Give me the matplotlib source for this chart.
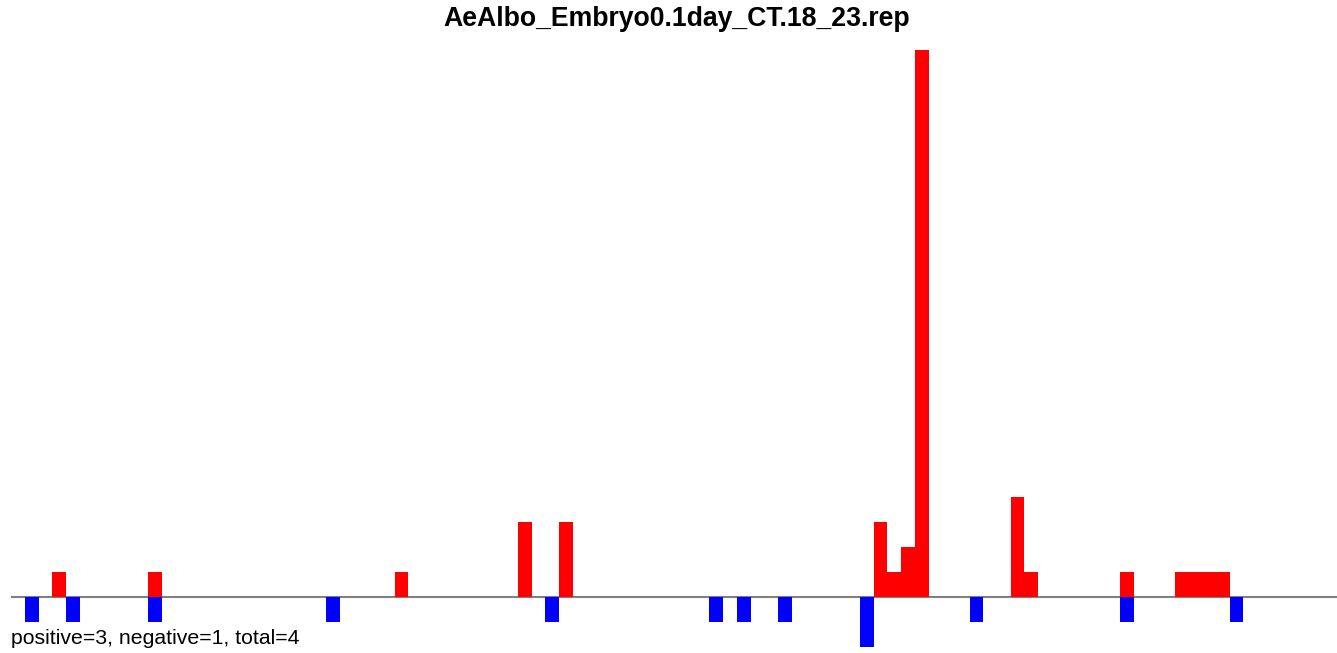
import matplotlib
matplotlib.use("Agg")
import matplotlib.pyplot as plt

title = "AeAlbo_Embryo0.1day_CT.18_23.rep"
summary = "positive=3, negative=1, total=4"

pos_idx = [3, 10, 28, 37, 40, 63, 64, 65, 66, 73, 74, 81, 85, 86, 87, 88]
pos_val = [1, 1, 1, 3, 3, 3, 1, 2, 22, 4, 1, 1, 1, 1, 1, 1]
neg_idx = [1, 4, 10, 23, 39, 51, 53, 56, 62, 70, 81, 89]
neg_val = [-1, -1, -1, -1, -1, -1, -1, -1, -2, -1, -1, -1]

plt.rcParams['font.family'] = ['Liberation Sans', 'DejaVu Sans']

fig = plt.figure(figsize=(13.37, 6.53), dpi=100)
ax = fig.add_axes([11.3 / 1337, 0, 1 - 11.3 / 1337, (653 - 50) / 653])
ax.bar(pos_idx, pos_val, width=1.0, align='edge', color='#ff0000', linewidth=0, zorder=2)
ax.bar(neg_idx, neg_val, width=1.0, align='edge', color='#0000ff', linewidth=0, zorder=2)
ax.axhline(0, color='#808080', linewidth=1.5, zorder=1)
ax.set_xlim(0, 96.84)
ax.set_ylim(-2.24, 21.88)
ax.axis('off')

fig.text(677 / 1337, 1 - 19 / 653, title, ha='center', va='center',
         fontsize=19.2, fontweight='bold')
fig.text(11 / 1337, 1 - 638 / 653, summary, ha='left', va='center', fontsize=15.3)

fig.savefig('out.png', dpi=100)
